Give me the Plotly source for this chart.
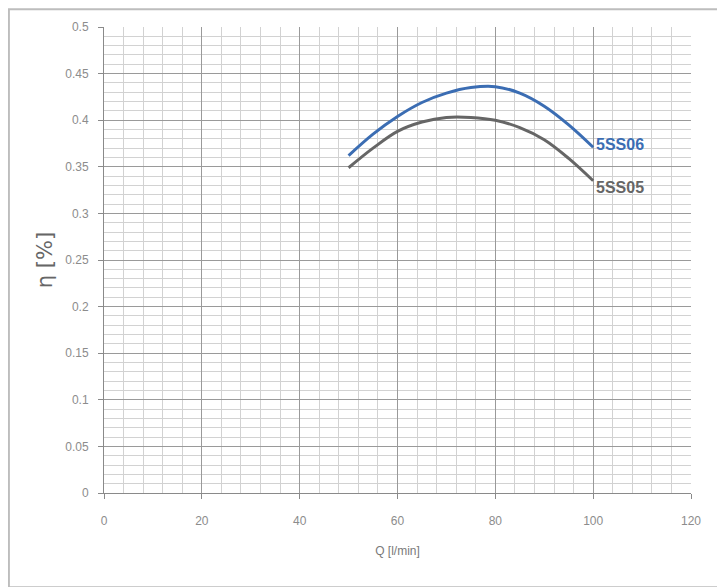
import plotly.graph_objects as go

q = [50, 55, 60, 65, 70, 75, 80, 85, 90, 95, 100]
eta_5ss06 = [0.362, 0.385, 0.404, 0.419, 0.429, 0.435, 0.436, 0.429, 0.415, 0.395, 0.371]
eta_5ss05 = [0.349, 0.370, 0.388, 0.398, 0.403, 0.403, 0.400, 0.392, 0.379, 0.359, 0.335]
series_names = ["5SS06", "5SS05"]
x_ticks = [0, 20, 40, 60, 80, 100, 120]
y_ticks = [0, 0.05, 0.1, 0.15, 0.2, 0.25, 0.3, 0.35, 0.4, 0.45, 0.5]
y_tick_text = ["0", "0.05", "0.1", "0.15", "0.2", "0.25", "0.3", "0.35", "0.4", "0.45", "0.5"]

blue = "#3b6db3"
gray = "#666666"
font_narrow = "Liberation Sans Narrow, Arial Narrow, Liberation Sans, sans-serif"

fig = go.Figure()
fig.add_trace(go.Scatter(x=q, y=eta_5ss06, mode="lines", line=dict(color=blue, width=3, shape="spline"),
                         name=series_names[0], showlegend=False))
fig.add_trace(go.Scatter(x=q, y=eta_5ss05, mode="lines", line=dict(color=gray, width=3, shape="spline"),
                         name=series_names[1], showlegend=False))

fig.add_annotation(x=q[-1], y=eta_5ss06[-1], text="<b>" + series_names[0] + "</b>", showarrow=False,
                   xanchor="left", yanchor="middle", xshift=1, yshift=3,
                   font=dict(family=font_narrow, size=16, color=blue))
fig.add_annotation(x=q[-1], y=eta_5ss05[-1], text="<b>" + series_names[1] + "</b>", showarrow=False,
                   xanchor="left", yanchor="middle", xshift=1, yshift=-7,
                   font=dict(family=font_narrow, size=16, color=gray))

fig.add_shape(type="rect", xref="paper", yref="paper", x0=-0.162, x1=1.05, y0=-0.202, y1=1.038,
              line=dict(color="#bdbdbd", width=2), fillcolor="rgba(0,0,0,0)", layer="below")

fig.update_xaxes(range=[0, 120], tickvals=x_ticks, ticktext=[str(v) for v in x_ticks],
                 showgrid=True, gridcolor="#9a9a9a", gridwidth=1,
                 minor=dict(dtick=4, showgrid=True, gridcolor="#d2d2d2", gridwidth=1),
                 showline=True, linecolor="#8a8a8a", linewidth=1,
                 ticks="outside", ticklen=5, tickcolor="#8a8a8a",
                 zeroline=False, ticklabelstandoff=12,
                 tickfont=dict(family=font_narrow, size=12, color="#8c8c8c"),
                 title=dict(text="Q [l/min]", font=dict(family=font_narrow, size=12, color="#7a7a7a"), standoff=19))
fig.update_yaxes(range=[0, 0.5], tickvals=y_ticks, ticktext=y_tick_text,
                 showgrid=True, gridcolor="#9a9a9a", gridwidth=1,
                 minor=dict(dtick=0.01, showgrid=True, gridcolor="#d2d2d2", gridwidth=1),
                 showline=True, linecolor="#8a8a8a", linewidth=1,
                 ticks="outside", ticklen=5, tickcolor="#8a8a8a",
                 zeroline=False, ticklabelstandoff=7,
                 tickfont=dict(family=font_narrow, size=12, color="#8c8c8c"),
                 title=dict(text="η [%]", font=dict(family="DejaVu Sans, sans-serif", size=21, color="#666666"), standoff=6))

fig.update_layout(width=718, height=580, margin=dict(l=96, r=35, t=19, b=95),
                  plot_bgcolor="white", paper_bgcolor="white")

fig.write_html("out.html")
